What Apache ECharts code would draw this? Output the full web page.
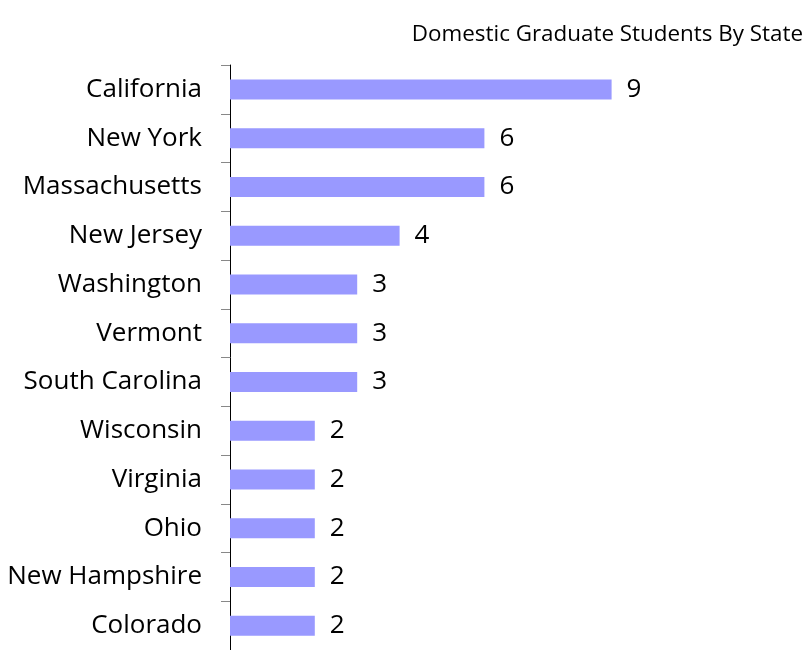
<!DOCTYPE html>
<html>
<head>
<meta charset="utf-8">
<script src="https://cdn.jsdelivr.net/npm/echarts@6/dist/echarts.min.js"></script>
<style>
  html, body { margin: 0; padding: 0; background: #fff; }
  #graph1 { width: 806px; height: 650px; }
</style>
</head>
<body>
<div id="graph1"></div>
<script>
// states from top to bottom
var states = ['California', 'New York', 'Massachusetts', 'New Jersey', 'Washington', 'Vermont',
    'South Carolina', 'Wisconsin', 'Virginia', 'Ohio', 'New Hampshire', 'Colorado'];
var students = [9, 6, 6, 4, 3, 3, 3, 2, 2, 2, 2, 2];

function drawStateChart(dataY, dataX) {
    var myChart = echarts.init(document.getElementById('graph1'));
    var fontName = 'Open Sans';

    var option = {
        title: {
            text: 'Domestic Graduate Students By State',
            right: 3,
            top: 24,
            padding: 0,
            textStyle: {
                color: '#000',
                fontSize: 22.4,
                fontFamily: fontName,
                fontWeight: 'normal'
            }
        },
        grid: {
            left: 230,
            right: 152,
            top: 65,
            bottom: 0
        },
        xAxis: {
            type: 'value',
            min: 0,
            max: 10,
            show: false
        },
        yAxis: {
            type: 'category',
            inverse: true,
            data: dataY,
            axisLine: { show: true, lineStyle: { color: '#000', width: 1 } },
            axisTick: { show: true, length: 9, lineStyle: { color: '#888' } },
            splitLine: { show: false },
            axisLabel: {
                margin: 28,
                color: '#000',
                fontSize: 26,
                fontFamily: fontName,
                padding: [8, 0, 0, 0]
            }
        },
        series: [{
            type: 'bar',
            data: dataX,
            barWidth: 20,
            itemStyle: { color: '#9999ff' },
            label: {
                show: true,
                position: 'right',
                distance: 15,
                color: '#000',
                fontSize: 26,
                fontFamily: fontName,
                padding: [8, 0, 0, 0]
            },
            animation: false
        }]
    };
    myChart.setOption(option, true);
}

drawStateChart(states, students);
</script>
</body>
</html>
